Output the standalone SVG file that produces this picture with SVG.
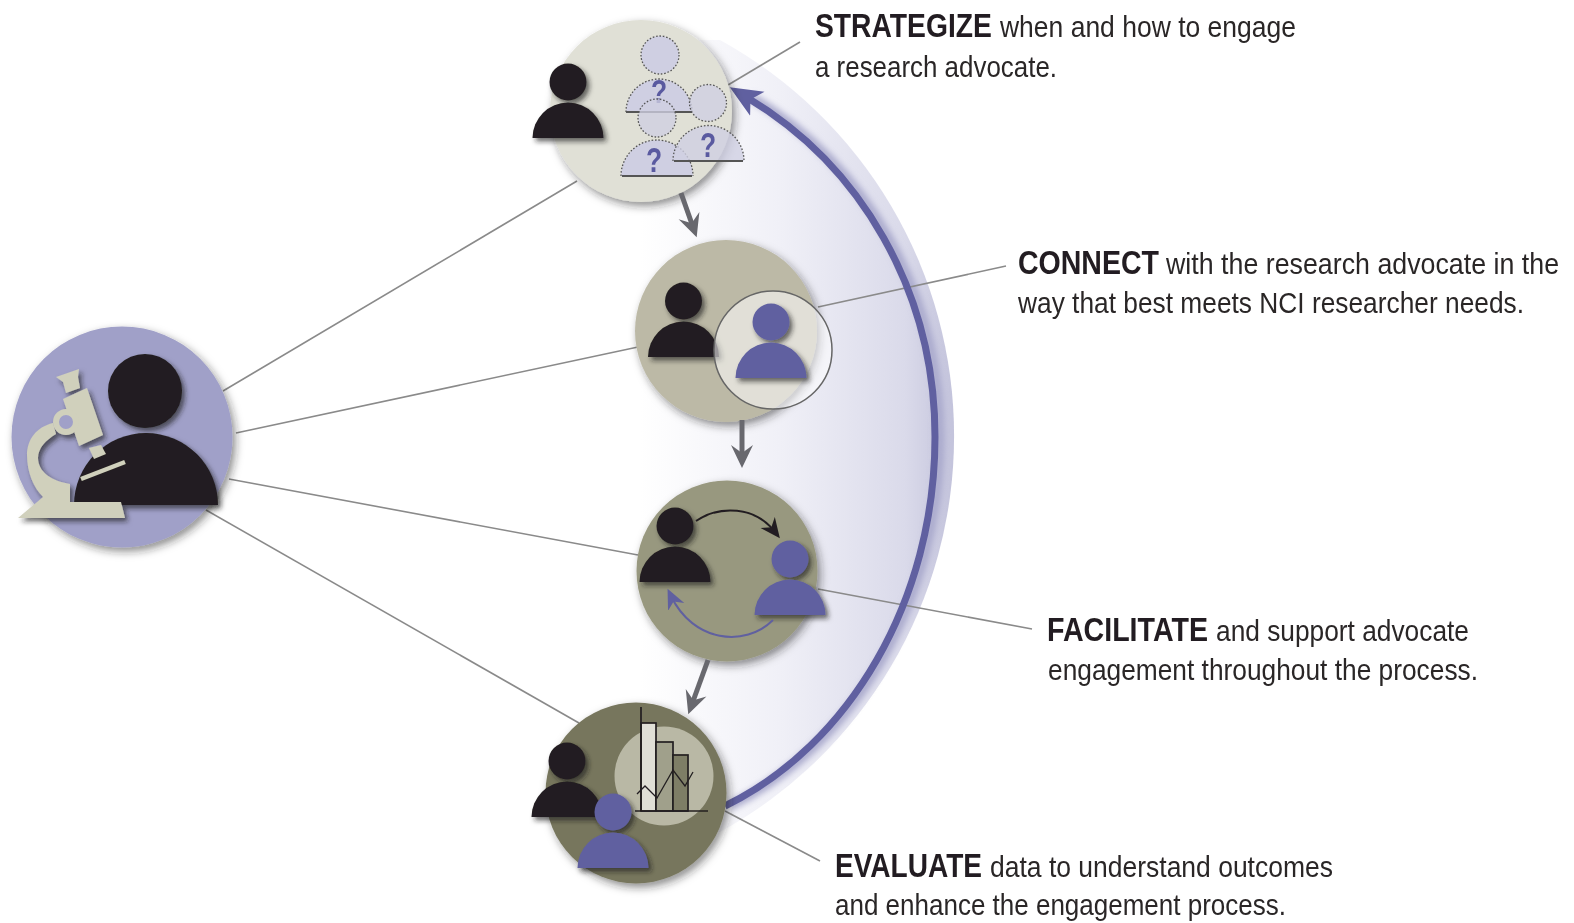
<svg xmlns="http://www.w3.org/2000/svg" width="1574" height="923" viewBox="0 0 1574 923">
<style>
text{font-family:"Liberation Sans",Arial,sans-serif;fill:#2a2728}
.b{font-weight:700;font-size:33px;fill:#231f20}
.r{font-size:29px}
.line{stroke:#8a8a8a;stroke-width:1.6;fill:none}
.flow{stroke:#68686e;stroke-width:5;fill:none}
.ink{fill:#231f20}
.pur{fill:#6060a0}
.mic{fill:#d0d0bc}
.dot{fill:#cfcfe2;stroke:#555;stroke-width:1.3;stroke-dasharray:1.6 1.8}
.q{font-weight:700;font-size:33px;fill:#5a5aa0;text-anchor:middle}
.base{stroke:#555;stroke-width:1.9}
.chart{stroke:#231f20;stroke-width:1.7}
</style>
<defs>
<linearGradient id="cres" gradientUnits="userSpaceOnUse" x1="640" y1="0" x2="952" y2="0">
<stop offset="0" stop-color="#fff"/><stop offset="0.45" stop-color="#f0f0f7"/><stop offset="0.85" stop-color="#dadaea"/><stop offset="1" stop-color="#c4c4dc"/>
</linearGradient>
<filter id="ns" x="-20%" y="-20%" width="145%" height="145%"><feDropShadow dx="3" dy="4" stdDeviation="4" flood-color="#222" flood-opacity=".5"/></filter>
<filter id="ps" x="-30%" y="-30%" width="170%" height="170%"><feDropShadow dx="3" dy="3.500" stdDeviation="2.500" flood-color="#1c1c1c" flood-opacity=".65"/></filter>
<filter id="soft" x="-5%" y="-5%" width="110%" height="110%"><feGaussianBlur stdDeviation="0.7"/></filter>
<filter id="softer" x="-5%" y="-5%" width="110%" height="110%"><feGaussianBlur stdDeviation="3"/></filter>
<marker id="big" markerUnits="userSpaceOnUse" markerWidth="34" markerHeight="32" refX="12" refY="15" orient="auto"><path d="M32,15 L0,1 L8,15 L0,29 Z" fill="#6060a0"/></marker>
<marker id="fl" markerUnits="userSpaceOnUse" markerWidth="26" markerHeight="26" refX="13" refY="13" orient="auto"><path d="M24,13 L1,2 L9,13 L1,24 Z" fill="#68686e"/></marker>
<marker id="blk" markerUnits="userSpaceOnUse" markerWidth="22" markerHeight="22" refX="12" refY="10" orient="auto"><path d="M20,10 L0,1 L6,10 L0,19 Z" fill="#231f20"/></marker>
<marker id="pm" markerUnits="userSpaceOnUse" markerWidth="22" markerHeight="22" refX="12" refY="10" orient="auto"><path d="M20,10 L0,1 L6,10 L0,19 Z" fill="#6060a0"/></marker>
<g id="person"><circle cx="0" cy="-56" r="18.500"/><path d="M-35.500,0 A35.500,35.500 0 0 1 35.500,0 Z"/></g>
</defs>
<rect width="1574" height="923" fill="#fff"/>
<g filter="url(#soft)">
<path id="crescent" d="M640,40 L720,40 A452,452 0 0 1 720,832 L640,832 Z" fill="url(#cres)"/>
<path d="M725,806 C850,745 935,600 935,437 C935,290 860,165 747,97.500" fill="none" stroke="#a9a9cc" stroke-width="9" filter="url(#softer)" transform="translate(5,0)"/>
<g id="connectors">
<path class="line" d="M223,391 L577,181"/>
<path class="line" d="M236,433 L638,347"/>
<path class="line" d="M229,479 L638,555"/>
<path class="line" d="M206,510 L579,723"/>
<path class="line" d="M728,85 L800,42"/>
<path class="line" d="M818,307 L1006,266"/>
<path class="line" d="M818,589 L1032,629"/>
<path class="line" d="M725,811 L820,861"/>
<path d="M725,806 C850,745 935,600 935,437 C935,290 860,165 747,97.500" fill="none" stroke="#6060a0" stroke-width="7" marker-end="url(#big)"/>
</g>
<g id="node-researcher">
<circle cx="122" cy="437" r="110.500" fill="#a0a0c8" filter="url(#ns)"/>
<g filter="url(#ps)">
<circle class="ink" cx="145" cy="391" r="37"/>
<path class="ink" d="M74,505 A72,72 0 0 1 218,505 Z"/>
<g class="mic">
<path d="M56,377 L79,369 L78,377 L80,388 L66,393 L63,382 Z"/>
<path d="M63,399 L87,388 L103,435 L79,446 Z"/>
<path d="M89,448 L101,445 L106,454 L94,459 Z"/>
<path d="M53,423 C36,427 27,440 27,455 C27,473 34,488 43,497 L18,518 L125,518 L121,502 L70,502 L70,484 C52,481 38,472 38,458 C38,448 46,440 56,434 Z"/>
</g>
<circle cx="66" cy="422" r="10" fill="#a0a0c8" stroke="#d0d0bc" stroke-width="6"/>
<path d="M81,479 L125,462" stroke="#d0d0bc" stroke-width="4.500" fill="none"/>
</g>
</g>
<g id="node-strategize">
<circle cx="641" cy="111" r="91" fill="#e0e0d6" filter="url(#ns)"/>
<use href="#person" class="ink" x="568" y="138" filter="url(#ps)"/>
<circle class="dot" cx="660" cy="55" r="19"/>
<path class="dot" d="M626,112 A33,33 0 0 1 692,112"/><path d="M626,112 L692,112" class="base"/>
<text class="q" transform="translate(659,103) scale(.8,1)">?</text>
<circle class="dot" cx="657" cy="118" r="19" fill-opacity=".78"/>
<path class="dot" d="M621,176 A36,36 0 0 1 693,176"/><path d="M622,176 L692,176" class="base"/>
<text class="q" transform="translate(654,172) scale(.8,1.05)">?</text>
<circle class="dot" cx="708" cy="103" r="18.500" fill-opacity=".8"/>
<path class="dot" d="M673,161 A35.500,35.500 0 0 1 744,161" fill-opacity=".8"/><path d="M674,161 L743,161" class="base"/>
<text class="q" transform="translate(708,157) scale(.8,1.05)">?</text>
</g>
<g id="node-connect">
<circle cx="726" cy="331" r="91" fill="#bcb9a6" filter="url(#ns)"/>
<use href="#person" class="ink" x="683.500" y="357" filter="url(#ps)"/>
<circle cx="773" cy="350" r="59" fill="#fff" fill-opacity=".55" stroke="#666" stroke-width="1.500"/>
<use href="#person" class="pur" x="771" y="378" filter="url(#ps)"/>
</g>
<g id="node-facilitate">
<circle cx="727" cy="571" r="90.500" fill="#98987f" filter="url(#ns)"/>
<use href="#person" class="ink" x="675" y="582" filter="url(#ps)"/>
<use href="#person" class="pur" x="790" y="615" filter="url(#ps)"/>
<path d="M696,521 C720,505 755,506 775,532" fill="none" stroke="#231f20" stroke-width="2" marker-end="url(#blk)"/>
<path d="M773,620 C745,648 693,642 671,596" fill="none" stroke="#6060a0" stroke-width="2" marker-end="url(#pm)"/>
</g>
<g id="node-evaluate">
<circle cx="636" cy="793" r="90.500" fill="#77765d" filter="url(#ns)"/>
<circle cx="664" cy="776" r="49.500" fill="#b9b8a5"/>
<rect class="chart" x="641" y="723" width="15" height="88" fill="#e0dfd6"/>
<rect class="chart" x="656" y="742" width="17" height="69" fill="#a0a08b"/>
<rect class="chart" x="673" y="755" width="15" height="56" fill="#7e7e66"/>
<path class="chart" d="M641,707 V811 M635,811 H708"/>
<path d="M637,794 L645,786 L657,798 L673,770 L685,786 L693,772" fill="none" stroke="#231f20" stroke-width="1.300"/>
<use href="#person" class="ink" x="567" y="817" filter="url(#ps)"/>
<use href="#person" class="pur" x="613" y="868" filter="url(#ps)"/>
</g>
<g id="flow-arrows">
<path class="flow" d="M681,193 L693,227" marker-end="url(#fl)"/>
<path class="flow" d="M742,420 L742,457" marker-end="url(#fl)"/>
<path class="flow" d="M708,660 L692,704" marker-end="url(#fl)"/>
</g>
<g id="label-strategize">
<text class="b" transform="translate(815,37) scale(.79,1)" textLength="224" lengthAdjust="spacingAndGlyphs">STRATEGIZE</text>
<text class="r" transform="translate(1000,37) scale(.85,1)" textLength="348.200" lengthAdjust="spacingAndGlyphs">when and how to engage</text>
<text class="r" transform="translate(815,77) scale(.85,1)" textLength="284.700" lengthAdjust="spacingAndGlyphs">a research advocate.</text>
</g>
<g id="label-connect">
<text class="b" transform="translate(1018,274) scale(.79,1)" textLength="178.500" lengthAdjust="spacingAndGlyphs">CONNECT</text>
<text class="r" transform="translate(1166,274) scale(.85,1)" textLength="462.400" lengthAdjust="spacingAndGlyphs">with the research advocate in the</text>
<text class="r" transform="translate(1018,313) scale(.85,1)" textLength="595.300" lengthAdjust="spacingAndGlyphs">way that best meets NCI researcher needs.</text>
</g>
<g id="label-facilitate">
<text class="b" transform="translate(1047,641) scale(.79,1)" textLength="203.800" lengthAdjust="spacingAndGlyphs">FACILITATE</text>
<text class="r" transform="translate(1216,641) scale(.85,1)" textLength="297.600" lengthAdjust="spacingAndGlyphs">and support advocate</text>
<text class="r" transform="translate(1048,680) scale(.85,1)" textLength="505.900" lengthAdjust="spacingAndGlyphs">engagement throughout the process.</text>
</g>
<g id="label-evaluate">
<text class="b" transform="translate(835,877) scale(.79,1)" textLength="186.100" lengthAdjust="spacingAndGlyphs">EVALUATE</text>
<text class="r" transform="translate(990,877) scale(.85,1)" textLength="403.500" lengthAdjust="spacingAndGlyphs">data to understand outcomes</text>
<text class="r" transform="translate(835,915) scale(.85,1)" textLength="530.600" lengthAdjust="spacingAndGlyphs">and enhance the engagement process.</text>
</g>
</g>
</svg>
